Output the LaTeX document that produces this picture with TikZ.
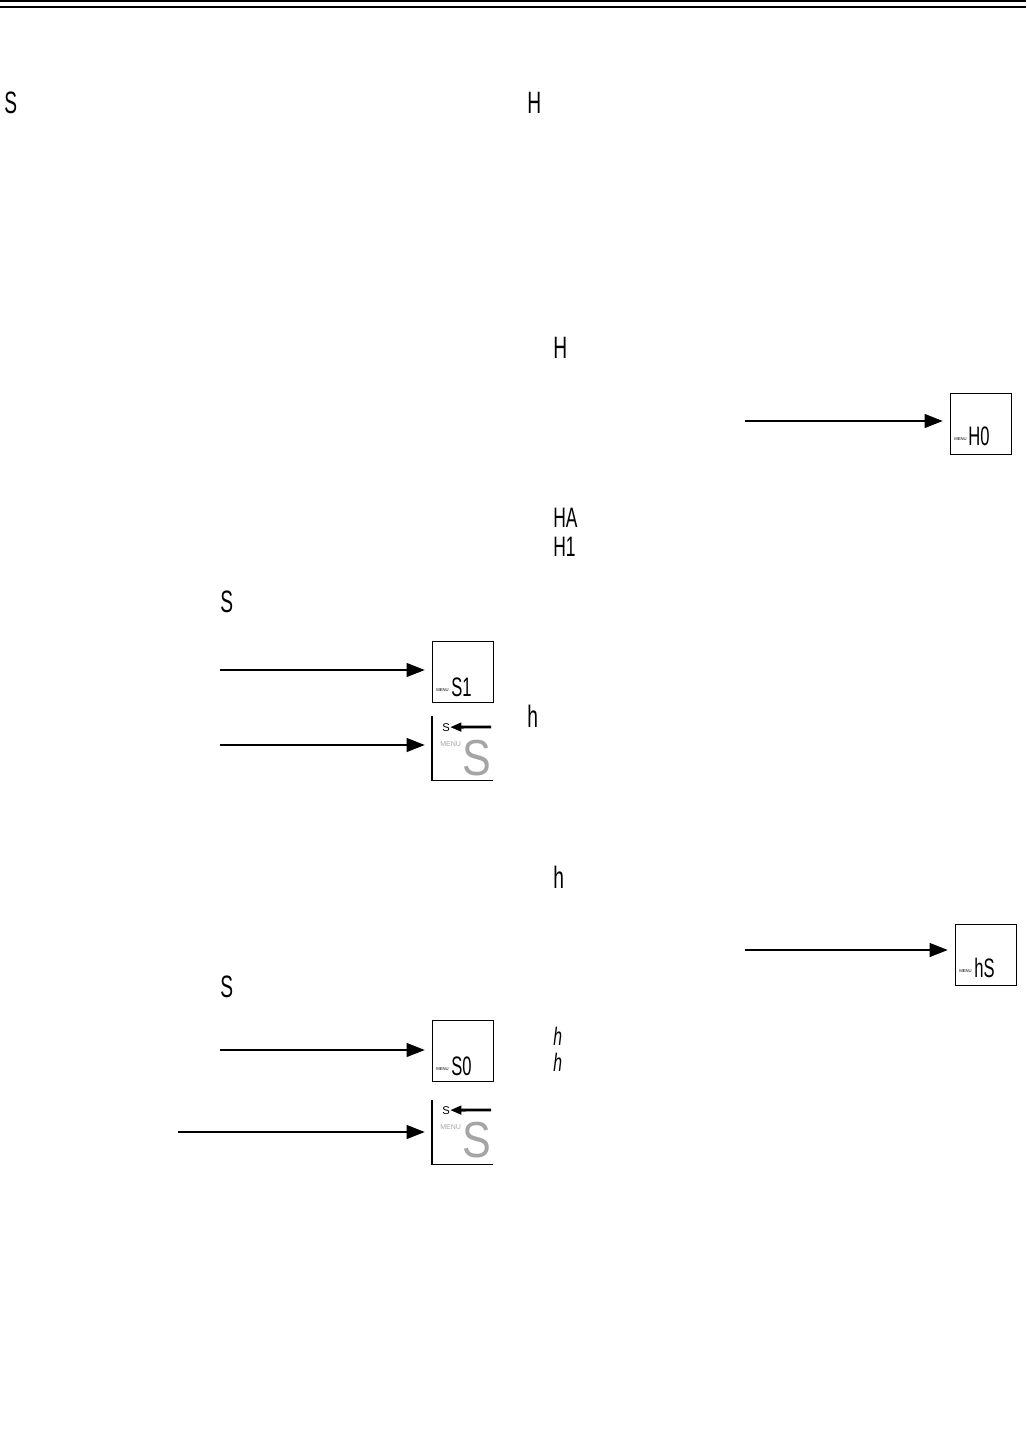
\documentclass[tikz,border=0pt]{standalone}
\usepackage{fontspec}
\usetikzlibrary{arrows.meta,positioning}
\newfontfamily\lcdfont{Liberation Sans}
\definecolor{lcdgray}{RGB}{165,165,165}
% segment-style display text, narrowed
\newcommand{\lcd}[3][0.62]{\scalebox{#1}[1]{\fontsize{#2}{#2}\selectfont\lcdfont #3}}

\tikzset{
  glyph/.style={inner sep=0pt, anchor=base west},
  panel/.style={draw, line width=1pt, inner sep=0pt, anchor=north west, minimum width=1.52cm, minimum height=1.52cm},
  openpanel/.style={inner sep=0pt, anchor=north west, minimum width=1.52cm, minimum height=1.6cm},
  pointer/.style={line width=2.1pt, -{Triangle[length=13pt,width=9.5pt]}, shorten >=5pt},
  back/.style={line width=2pt, -{Triangle[length=8pt,width=6pt]}},
  menu/.style={inner sep=0pt, anchor=base west, font=\fontsize{3}{3}\selectfont\lcdfont}
}

\begin{document}
\begin{tikzpicture}[x=0.025cm, y=-0.025cm]
    \useasboundingbox (0,0) rectangle (1026,1453);
    \draw[line width=0.9pt] (0,1) -- (1026,1);
    \draw[line width=1.4pt] (0,7) -- (1026,7);

    % headings
    \node[glyph] (headS) at (4,113) {\lcd{22}{S}};
    \node[glyph] (headH) at (527,113) {\lcd{22}{H}};

    % H column
    \node[glyph] (stepH) at (553,358) {\lcd{22}{H}};
    \node[panel] (boxH0) at (950,393) {};
    \node[menu] (menuH0) at (954,440) {MENU};
    \node[glyph] (txtH0) at (968,445) {\lcd{19}{H0}};
    \coordinate (fromH0) at (745,421);
    \draw[pointer] (fromH0) -- (fromH0 -| boxH0.west);

    \node[glyph] (optHA) at (553,527) {\lcd{20}{HA}};
    \node[glyph] (optH1) at (553,556) {\lcd{20}{H1}};

    % S column
    \node[glyph] (stepS) at (220,612) {\lcd{22}{S}};
    \node[panel] (boxS1) at (432,641) {};
    \node[menu] (menuS1) at (436,691) {MENU};
    \node[glyph] (txtS1) at (451,696) {\lcd{19}{S1}};
    \coordinate (fromS1) at (220,670);
    \draw[pointer] (fromS1) -- (fromS1 -| boxS1.west);

    \node[openpanel] (openA) at (432,716) {};
    \draw[line width=1pt] (openA.north west) -- (openA.south west) -- (openA.south east);
    \node[glyph] (sA) at (442,731) {\fontsize{8}{8}\selectfont\lcdfont S};
    \coordinate (tailA) at (491,727);
    \draw[back] (tailA) -- (sA.east);
    \node[menu, text=lcdgray, font=\fontsize{5}{5}\selectfont\lcdfont] (menuA) at (440,746) {MENU};
    \node[glyph, text=lcdgray] (grayA) at (462,775) {\lcd[0.85]{36}{S}};
    \coordinate (fromA) at (220,745);
    \draw[pointer] (fromA) -- (fromA -| openA.west);

    \node[glyph] (hOne) at (527,727) {\lcd{22}{h}};

    % h column
    \node[glyph] (stepLh) at (553,888) {\lcd{22}{h}};
    \node[panel] (boxhS) at (955,924) {};
    \node[menu] (menuhS) at (959,972) {MENU};
    \node[glyph] (txthS) at (974,977) {\lcd{19}{hS}};
    \coordinate (fromhS) at (745,950);
    \draw[pointer] (fromhS) -- (fromhS -| boxhS.west);

    \node[glyph] (stepS2) at (220,997) {\lcd{22}{S}};
    \node[panel] (boxS0) at (432,1020) {};
    \node[menu] (menuS0) at (436,1070) {MENU};
    \node[glyph] (txtS0) at (451,1075) {\lcd{19}{S0}};
    \coordinate (fromS0) at (220,1050);
    \draw[pointer] (fromS0) -- (fromS0 -| boxS0.west);

    \node[glyph] (opthA) at (553,1045) {\lcd{18}{\itshape h}};
    \node[glyph] (opthB) at (553,1071) {\lcd{18}{\itshape h}};

    \node[openpanel] (openB) at (432,1100) {};
    \draw[line width=1pt] (openB.north west) -- (openB.south west) -- (openB.south east);
    \node[glyph] (sB) at (442,1114) {\fontsize{8}{8}\selectfont\lcdfont S};
    \coordinate (tailB) at (491,1110);
    \draw[back] (tailB) -- (sB.east);
    \node[menu, text=lcdgray, font=\fontsize{5}{5}\selectfont\lcdfont] (menuB) at (440,1129) {MENU};
    \node[glyph, text=lcdgray] (grayB) at (462,1157) {\lcd[0.85]{36}{S}};
    \coordinate (fromB) at (178,1132);
    \draw[pointer] (fromB) -- (fromB -| openB.west);
\end{tikzpicture}
\end{document}
